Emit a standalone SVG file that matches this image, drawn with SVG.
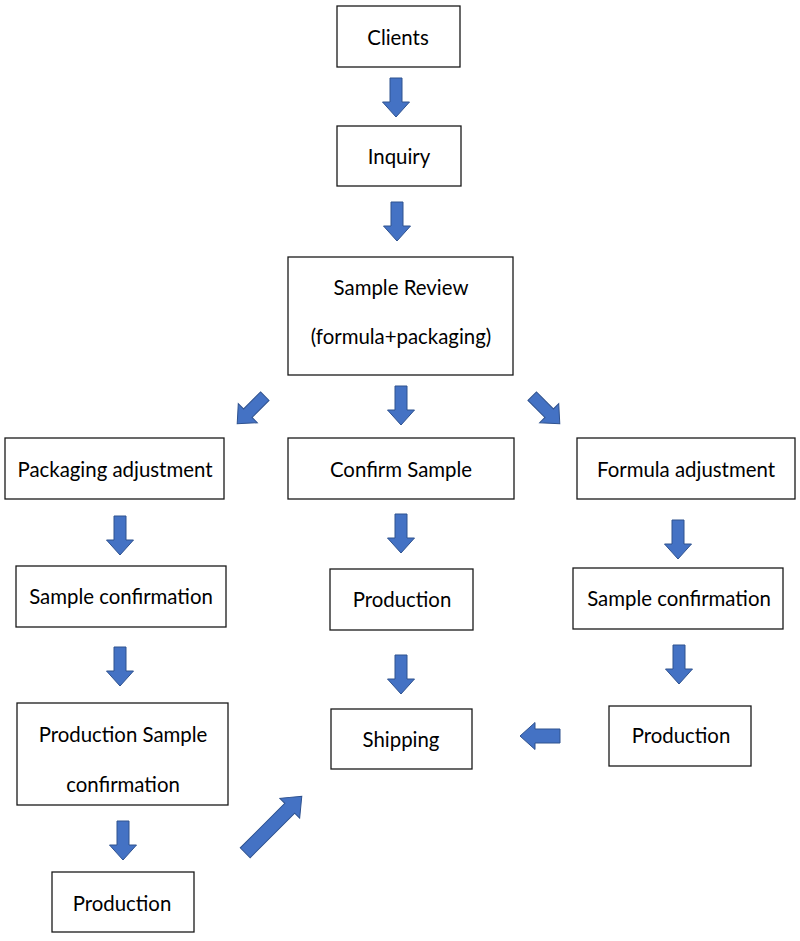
<svg xmlns="http://www.w3.org/2000/svg" xmlns:xlink="http://www.w3.org/1999/xlink" width="800" height="941" viewBox="0 0 800 941">
  <style>
    .box { fill: #ffffff; stroke: #1a1a1a; stroke-width: 1.3; }
    .lbl { font-family: Lato, "Open Sans", "Liberation Sans", sans-serif; font-size: 20.4px; fill: #000000; text-anchor: middle; }
    .arr { fill: #4472C4; stroke: #2F528F; stroke-width: 1; stroke-linejoin: miter; }
  </style>
  <defs>
    <path id="down" d="M-6,0 H6 V24 H13.5 L0,39 L-13.5,24 H-6 Z"/>
    <path id="downc" d="M-6,-19.5 H6 V4.5 H13.5 L0,19.5 L-13.5,4.5 H-6 Z"/>
    <path id="up80" d="M0,-40 L14,-23 H7 V40 H-7 V-23 H-14 Z"/>
    <path id="left" d="M0,0 L15,-13.5 V-7 H40 V7 H15 V13.5 Z"/>
  </defs>
  <rect width="800" height="941" fill="#ffffff"/>

  <g id="clients">
    <rect class="box" x="337" y="6" width="123" height="61"/>
    <text class="lbl" x="398" y="45">Clients</text>
  </g>
  <g id="inquiry">
    <rect class="box" x="337" y="126" width="124" height="60"/>
    <text class="lbl" x="399" y="164">Inquiry</text>
  </g>
  <g id="sample-review">
    <rect class="box" x="288" y="257" width="225" height="118"/>
    <text class="lbl" x="401" y="295">Sample Review</text>
    <text class="lbl" x="401" y="344">(formula+packaging)</text>
  </g>
  <g id="packaging-adjustment">
    <rect class="box" x="5" y="438" width="219" height="61"/>
    <text class="lbl" x="115" y="477">Packaging adjustment</text>
  </g>
  <g id="confirm-sample">
    <rect class="box" x="288" y="438" width="226" height="61"/>
    <text class="lbl" x="401" y="477">Confirm Sample</text>
  </g>
  <g id="formula-adjustment">
    <rect class="box" x="577" y="438" width="218" height="61"/>
    <text class="lbl" x="686" y="477">Formula adjustment</text>
  </g>
  <g id="sample-confirmation-left">
    <rect class="box" x="16" y="566" width="210" height="61"/>
    <text class="lbl" x="121" y="604">Sample confirmation</text>
  </g>
  <g id="production-center">
    <rect class="box" x="330" y="569" width="143" height="61"/>
    <text class="lbl" x="402" y="607">Production</text>
  </g>
  <g id="sample-confirmation-right">
    <rect class="box" x="573" y="568" width="210" height="61"/>
    <text class="lbl" x="679" y="606">Sample confirmation</text>
  </g>
  <g id="production-sample-confirmation">
    <rect class="box" x="17" y="703" width="211" height="102"/>
    <text class="lbl" x="123" y="742">Production Sample</text>
    <text class="lbl" x="123" y="792">confirmation</text>
  </g>
  <g id="shipping">
    <rect class="box" x="331" y="709" width="141" height="60"/>
    <text class="lbl" x="401" y="747">Shipping</text>
  </g>
  <g id="production-right">
    <rect class="box" x="609" y="706" width="142" height="60"/>
    <text class="lbl" x="681" y="743">Production</text>
  </g>
  <g id="production-bottom">
    <rect class="box" x="52" y="872" width="142" height="60"/>
    <text class="lbl" x="122" y="911">Production</text>
  </g>

  <g id="connectors">
    <use xlink:href="#down" class="arr" transform="translate(396,78)"/>
    <use xlink:href="#down" class="arr" transform="translate(397,202)"/>
    <use xlink:href="#down" class="arr" transform="translate(401,386)"/>
    <use xlink:href="#downc" class="arr" transform="translate(251,410) rotate(45)"/>
    <use xlink:href="#downc" class="arr" transform="translate(546,410) rotate(-45)"/>
    <use xlink:href="#down" class="arr" transform="translate(120,516)"/>
    <use xlink:href="#down" class="arr" transform="translate(401,514)"/>
    <use xlink:href="#down" class="arr" transform="translate(678,520)"/>
    <use xlink:href="#down" class="arr" transform="translate(120,647)"/>
    <use xlink:href="#down" class="arr" transform="translate(401,655)"/>
    <use xlink:href="#down" class="arr" transform="translate(679,645)"/>
    <use xlink:href="#down" class="arr" transform="translate(123,821)"/>
    <use xlink:href="#left" class="arr" transform="translate(520,736)"/>
    <use xlink:href="#up80" class="arr" transform="translate(273.5,824.5) rotate(45)"/>
  </g>
</svg>
